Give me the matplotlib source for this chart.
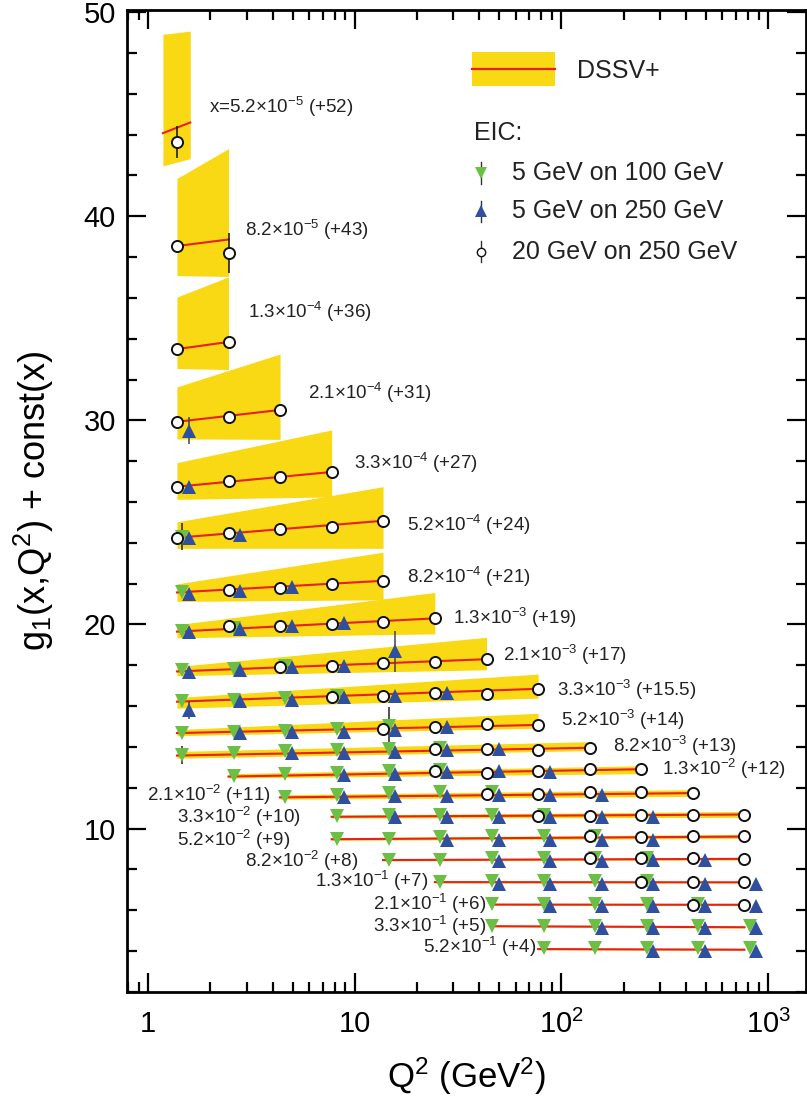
import numpy as np
import matplotlib.pyplot as plt
from matplotlib.ticker import FixedLocator, FixedFormatter, NullFormatter, MultipleLocator, LogLocator

plt.rcParams['font.family'] = ['Liberation Sans', 'DejaVu Sans']
plt.rcParams['mathtext.fontset'] = 'custom'
plt.rcParams['mathtext.rm'] = 'Liberation Sans'
plt.rcParams['mathtext.it'] = 'Liberation Sans:italic'
plt.rcParams['mathtext.bf'] = 'Liberation Sans:bold'

# Q^2 grid of the three EIC configurations (GeV^2)
q_circ = [1.38, 2.45, 4.35, 7.73, 13.7, 24.4, 43.4, 77.1, 137, 243, 432, 768]
q_green = [1.46, 2.60, 4.62, 8.21, 14.6, 25.9, 46.1, 81.9, 146, 259, 459, 816]
q_blue = [1.57, 2.80, 4.97, 8.84, 15.7, 27.9, 49.6, 88.1, 157, 278, 494, 878]

# x bins
labels = [
    "x=5.2×10$^{-5}$ (+52)", "8.2×10$^{-5}$ (+43)", "1.3×10$^{-4}$ (+36)",
    "2.1×10$^{-4}$ (+31)", "3.3×10$^{-4}$ (+27)", "5.2×10$^{-4}$ (+24)",
    "8.2×10$^{-4}$ (+21)", "1.3×10$^{-3}$ (+19)", "2.1×10$^{-3}$ (+17)",
    "3.3×10$^{-3}$ (+15.5)", "5.2×10$^{-3}$ (+14)", "8.2×10$^{-3}$ (+13)",
    "1.3×10$^{-2}$ (+12)", "2.1×10$^{-2}$ (+11)", "3.3×10$^{-2}$ (+10)",
    "5.2×10$^{-2}$ (+9)", "8.2×10$^{-2}$ (+8)", "1.3×10$^{-1}$ (+7)",
    "2.1×10$^{-1}$ (+6)", "3.3×10$^{-1}$ (+5)", "5.2×10$^{-1}$ (+4)",
]
label_x = [1.97, 2.95, 3.03, 5.96, 9.92, 17.8, 17.8, 30.0, 52.4, 95.2, 99.5, 178, 305,
           0.986, 1.377, 1.377, 2.95, 6.43, 12.3, 12.3, 21.4]
label_y = [45.36, 39.32, 35.32, 31.33, 27.90, 24.88, 22.35, 20.30, 18.52, 16.80, 15.30, 14.03,
           12.91, 11.63, 10.57, 9.46, 8.40, 7.42, 6.33, 5.22, 4.18]

# DSSV+ band: Q^2 range, lower/upper edge and central curve at both ends
band_q = [(1.18, 1.60), (1.38, 2.45), (1.38, 2.45), (1.38, 4.35), (1.38, 7.73), (1.38, 13.7),
          (1.38, 13.7), (1.38, 24.4), (1.38, 43.4), (1.38, 77.1), (1.38, 77.1), (1.38, 137),
          (2.45, 243), (4.35, 432), (7.73, 768), (7.73, 768), (13.7, 768), (24.4, 768),
          (46.0, 768), (46.0, 768), (77.1, 768)]
band_lo = [(42.47, 42.82), (37.09, 37.05), (32.54, 32.49), (29.09, 29.07), (26.13, 26.25),
           (23.73, 23.73), (21.13, 21.21), (19.35, 19.54), (17.49, 17.78), (15.90, 16.39),
           (14.55, 14.92), (13.45, 13.82), (12.48, 12.69), (11.44, 11.58), (10.52, 10.55),
           (9.43, 9.52), (8.42, 8.46), (7.34, 7.33), (6.24, 6.23), (5.18, 5.13), (4.06, 4.03)]
band_hi = [(48.91, 49.07), (41.85, 43.31), (36.04, 37.03), (31.64, 33.25), (27.93, 29.53),
           (25.03, 26.75), (21.99, 23.54), (19.99, 21.57), (17.94, 19.37), (16.42, 17.57),
           (14.85, 15.65), (13.78, 14.26), (12.69, 13.08), (11.66, 11.91), (10.66, 10.84),
           (9.55, 9.72), (8.52, 8.58), (7.42, 7.41), (6.32, 6.31), (5.26, 5.21), (4.14, 4.11)]
curve = [(44.07, 44.59), (38.54, 38.86), (33.49, 33.84), (29.93, 30.51), (26.75, 27.47),
         (24.25, 25.08), (21.57, 22.14), (19.65, 20.30), (17.70, 18.30), (16.22, 16.85),
         (14.68, 15.08), (13.58, 13.96), (12.55, 12.91), (11.53, 11.74), (10.58, 10.69),
         (9.48, 9.61), (8.46, 8.52), (7.38, 7.37), (6.28, 6.27), (5.22, 5.17), (4.10, 4.07)]

# pseudo-data: (Q^2 index, value, error) per x bin
green_pts = [
    [], [], [], [], [],
    [(0, 24.30, 0.65)],
    [(0, 21.57, 0)],
    [(0, 19.69, 0), (1, 19.81, 0)],
    [(0, 17.78, 0), (1, 17.83, 0), (2, 17.98, 0)],
    [(0, 16.26, 0), (1, 16.31, 0), (2, 16.40, 0), (3, 16.52, 0)],
    [(0, 14.68, 0), (1, 14.72, 0), (2, 14.80, 0), (3, 14.87, 0), (4, 15.04, 0.93)],
    [(0, 13.62, 0.45), (1, 13.70, 0), (2, 13.78, 0), (3, 13.83, 0), (4, 13.89, 0), (5, 13.97, 0)],
    [(1, 12.59, 0), (2, 12.69, 0), (3, 12.73, 0), (4, 12.80, 0), (5, 12.89, 0)],
    [(2, 11.54, 0), (3, 11.66, 0), (4, 11.74, 0), (5, 11.77, 0), (6, 11.77, 0)],
    [(3, 10.60, 0), (4, 10.69, 0), (5, 10.69, 0), (6, 10.69, 0), (7, 10.69, 0)],
    [(3, 9.49, 0), (4, 9.49, 0), (5, 9.59, 0), (6, 9.62, 0), (7, 9.62, 0), (8, 9.62, 0)],
    [(4, 8.48, 0), (5, 8.48, 0), (6, 8.55, 0), (7, 8.55, 0), (8, 8.55, 0), (9, 8.55, 0)],
    [(5, 7.40, 0), (6, 7.42, 0), (7, 7.42, 0), (8, 7.42, 0), (9, 7.42, 0)],
    [(6, 6.32, 0), (7, 6.32, 0), (8, 6.32, 0), (9, 6.32, 0), (10, 6.32, 0)],
    [(6, 5.25, 0), (7, 5.25, 0), (8, 5.25, 0), (9, 5.25, 0), (10, 5.25, 0), (11, 5.25, 0)],
    [(7, 4.13, 0), (8, 4.13, 0), (9, 4.13, 0), (10, 4.13, 0), (11, 4.13, 0)],
]
blue_pts = [
    [], [], [],
    [(0, 29.49, 0.65)],
    [(0, 26.75, 0)],
    [(0, 24.25, 0), (1, 24.39, 0)],
    [(0, 21.50, 0), (1, 21.65, 0), (2, 21.85, 0)],
    [(0, 19.64, 0), (1, 19.77, 0), (2, 19.95, 0), (3, 20.06, 0)],
    [(0, 17.68, 0), (1, 17.78, 0), (2, 17.94, 0), (3, 17.98, 0), (4, 18.68, 1.0)],
    [(0, 15.82, 0.45), (1, 16.26, 0), (2, 16.31, 0), (3, 16.44, 0), (4, 16.50, 0), (5, 16.66, 0)],
    [(1, 14.68, 0), (2, 14.75, 0), (3, 14.72, 0), (4, 14.85, 0), (5, 14.98, 0)],
    [(2, 13.70, 0), (3, 13.70, 0), (4, 13.74, 0), (5, 13.87, 0), (6, 13.92, 0)],
    [(3, 12.64, 0), (4, 12.69, 0), (5, 12.75, 0), (6, 12.80, 0), (7, 12.75, 0)],
    [(3, 11.54, 0), (4, 11.62, 0), (5, 11.62, 0), (6, 11.66, 0), (7, 11.66, 0), (8, 11.66, 0)],
    [(4, 10.56, 0), (5, 10.56, 0), (6, 10.56, 0), (7, 10.56, 0), (8, 10.56, 0), (9, 10.56, 0)],
    [(5, 9.46, 0), (6, 9.46, 0), (7, 9.46, 0), (8, 9.46, 0), (9, 9.46, 0)],
    [(6, 8.40, 0), (7, 8.40, 0), (8, 8.40, 0), (9, 8.45, 0), (10, 8.45, 0)],
    [(6, 7.30, 0), (7, 7.30, 0), (8, 7.30, 0), (9, 7.30, 0), (10, 7.30, 0), (11, 7.30, 0)],
    [(7, 6.22, 0), (8, 6.22, 0), (9, 6.22, 0), (10, 6.22, 0), (11, 6.22, 0)],
    [(8, 5.12, 0), (9, 5.12, 0), (10, 5.12, 0), (11, 5.12, 0)],
    [(9, 4.02, 0), (10, 4.02, 0), (11, 4.02, 0)],
]
circ_pts = [
    [(0, 43.63, 0.8)],
    [(0, 38.54, 0), (1, 38.19, 0.98)],
    [(0, 33.49, 0), (1, 33.84, 0)],
    [(0, 29.93, 0), (1, 30.18, 0), (2, 30.51, 0)],
    [(0, 26.75, 0), (1, 27.01, 0), (2, 27.21, 0), (3, 27.47, 0)],
    [(0, 24.25, 0), (1, 24.46, 0), (2, 24.66, 0), (3, 24.79, 0), (4, 25.08, 0)],
    [(1, 21.70, 0), (2, 21.81, 0), (3, 21.99, 0), (4, 22.14, 0)],
    [(1, 19.95, 0), (2, 19.95, 0), (3, 20.01, 0), (4, 20.11, 0), (5, 20.30, 0)],
    [(2, 17.92, 0), (3, 17.96, 0), (4, 18.09, 0), (5, 18.15, 0), (6, 18.30, 0)],
    [(3, 16.47, 0), (4, 16.50, 0), (5, 16.66, 0), (6, 16.61, 0), (7, 16.85, 0)],
    [(4, 14.87, 0), (5, 14.98, 0), (6, 15.14, 0), (7, 15.06, 0)],
    [(5, 13.89, 0), (6, 13.92, 0), (7, 13.83, 0), (8, 13.97, 0)],
    [(5, 12.80, 0), (6, 12.73, 0), (7, 12.84, 0), (8, 12.91, 0), (9, 12.91, 0)],
    [(6, 11.69, 0), (7, 11.69, 0), (8, 11.79, 0), (9, 11.79, 0), (10, 11.74, 0)],
    [(7, 10.64, 0), (8, 10.64, 0), (9, 10.69, 0), (10, 10.69, 0), (11, 10.69, 0)],
    [(8, 9.62, 0), (9, 9.59, 0), (10, 9.62, 0), (11, 9.62, 0)],
    [(8, 8.55, 0), (9, 8.55, 0), (10, 8.55, 0), (11, 8.50, 0)],
    [(9, 7.37, 0), (10, 7.37, 0), (11, 7.37, 0)],
    [(10, 6.28, 0), (11, 6.28, 0)],
    [], [],
]

yellow = '#f9d814'
red = '#e8201a'
green = '#6cbf45'
blue = '#2f4f9f'

fig = plt.figure(figsize=(8.07, 11.03), dpi=100)
ax = fig.add_axes([0.1574, 0.1007, 0.8414, 0.8902])

for i in range(len(labels)):
    ax.fill_between(band_q[i], band_lo[i], band_hi[i], color=yellow, lw=0, zorder=1)
    ax.plot(band_q[i], curve[i], color=red, lw=1.5, zorder=2)
    ax.text(label_x[i], label_y[i], labels[i], fontsize=13.5, ha='left', va='center',
            color='#222222')


def draw(pts, qgrid, **kw):
    xs, ys, es = [], [], []
    for row in pts:
        for k, y, e in row:
            xs.append(qgrid[k])
            ys.append(y)
            es.append(e)
    ax.errorbar(xs, ys, yerr=es, elinewidth=1.1, capsize=0, ls='none', zorder=3, **kw)


draw(green_pts, q_green, fmt='v', color=green, ecolor='#222222', ms=9.5, mew=0)
draw(blue_pts, q_blue, fmt='^', color=blue, ecolor='#444444', ms=9.5, mew=0)
draw(circ_pts, q_circ, fmt='o', mfc='white', mec='#111111', ecolor='#111111', ms=8, mew=1.4)

ax.set_xscale('log')
ax.set_xlim(0.791, 1525)
ax.set_ylim(2.0, 50.1)

ax.xaxis.set_major_locator(FixedLocator([1, 10, 100, 1000]))
ax.xaxis.set_major_formatter(FixedFormatter(['1', '10', '$10^{2}$', '$10^{3}$']))
ax.xaxis.set_minor_locator(LogLocator(base=10, subs=np.arange(2, 10), numticks=20))
ax.xaxis.set_minor_formatter(NullFormatter())
ax.yaxis.set_major_locator(MultipleLocator(10))
ax.yaxis.set_minor_locator(MultipleLocator(2))

ax.tick_params(which='both', direction='in', top=True, right=True, width=1.6)
ax.tick_params(which='major', length=14, labelsize=21)
ax.tick_params(which='minor', length=7)
ax.tick_params(axis='x', which='major', pad=13)
ax.tick_params(axis='y', which='major', pad=8)
for s in ax.spines.values():
    s.set_linewidth(2.0)

ax.set_xlabel('Q$^{2}$ (GeV$^{2}$)', fontsize=25, labelpad=12)
ax.set_ylabel('g$_{1}$(x,Q$^{2}$) + const(x)', fontsize=26, labelpad=20)

# legend drawn by hand
ax.add_patch(plt.Rectangle((0.508, 0.923), 0.122, 0.034, transform=ax.transAxes,
                           color=yellow, lw=0, zorder=4))
ax.plot([0.508, 0.630], [0.940, 0.940], transform=ax.transAxes, color=red, lw=1.6, zorder=5)
ax.text(0.663, 0.938, 'DSSV+', transform=ax.transAxes, fontsize=18, va='center', color='#222222')
ax.text(0.511, 0.875, 'EIC:', transform=ax.transAxes, fontsize=18, va='center', color='#222222')
leg_y = [0.834, 0.795, 0.754]
leg_txt = ['5 GeV on 100 GeV', '5 GeV on 250 GeV', '20 GeV on 250 GeV']
leg_sty = [dict(marker='v', color=green, mew=0, ms=9),
           dict(marker='^', color=blue, mew=0, ms=9),
           dict(marker='o', mfc='white', mec='#111111', mew=1.0, ms=6)]
for yy, tt, st in zip(leg_y, leg_txt, leg_sty):
    ax.plot([0.521, 0.521], [yy - 0.011, yy + 0.011], transform=ax.transAxes,
            color='#333333', lw=1.0, zorder=5)
    ax.plot([0.521], [yy], transform=ax.transAxes, ls='none', zorder=6, **st)
    ax.text(0.567, yy, tt, transform=ax.transAxes, fontsize=18, va='center', color='#222222')

fig.savefig('out.png', dpi=100)
